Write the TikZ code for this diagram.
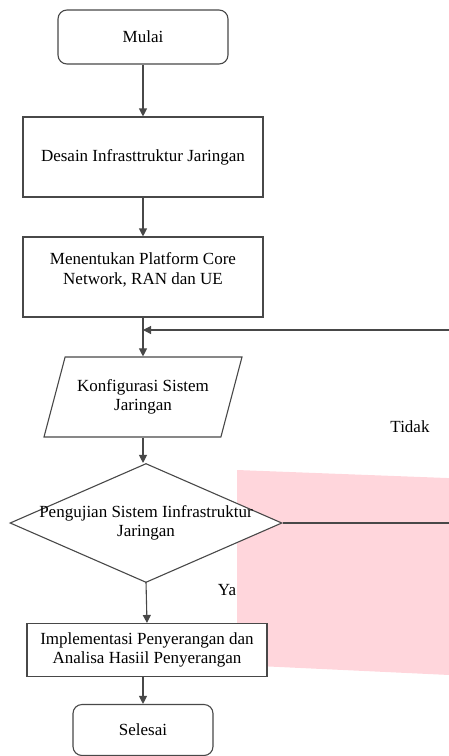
\documentclass[tikz,border=0pt]{standalone}
\usepackage{fontspec}
\setmainfont{Liberation Serif}
\usetikzlibrary{arrows.meta,shapes.geometric}

\definecolor{shadepink}{RGB}{255,214,220}
\definecolor{linegray}{RGB}{72,72,72}

\begin{document}
\begin{tikzpicture}[x=1pt,y=-1pt,>={Triangle[length=8pt,width=8pt]},
    font=\fontsize{17}{19.5}\selectfont]

  \tikzstyle{terminal}=[rectangle,rounded corners=9pt,draw=linegray,
    line width=1.1pt,fill=white,inner sep=0pt]
  \tikzstyle{process}=[rectangle,draw=linegray,line width=1.1pt,
    fill=white,inner sep=0pt,minimum width=240pt,align=center]
  \tikzstyle{io}=[trapezium,trapezium left angle=59,trapezium right angle=121,
    trapezium stretches body=true,draw=linegray,line width=1.1pt,fill=white,
    minimum width=198pt,minimum height=80pt,inner sep=0pt,align=center]
  \tikzstyle{decision}=[diamond,draw=linegray,line width=1.1pt,fill=white,
    minimum width=272pt,minimum height=119pt,inner sep=0pt]
  \tikzstyle{flow}=[->,draw=linegray,line width=1.1pt]

  \useasboundingbox (0,0) rectangle (448,756);

  %% shaded area behind the right side
  \fill [shadepink] (237,470) -- (460,478.5) -- (460,675.5) -- (237,665) -- cycle;

  \node  (mulai)   at (143,37)   [terminal,minimum width=170pt,minimum height=54pt] {Mulai};
  \node  (desain)  at (143,157)  [process,minimum height=80pt] {Desain Infrasttruktur Jaringan};
  \node  (platform) at (143,277) [process,minimum height=80pt,text depth=17pt]
         {Menentukan Platform Core\\Network, RAN dan UE};
  \node  (konfig)  at (143,397)  [io] {Konfigurasi Sistem\\Jaringan};
  \node  (uji)     at (146,523)  [decision,
         label={[align=center]center:Pengujian Sistem Iinfrastruktur\\Jaringan}] {};
  \node  (impl)    at (147,650)  [process,minimum height=53pt]
         {Implementasi Penyerangan dan\\Analisa Hasiil Penyerangan};
  \node  (selesai) at (143,730)  [terminal,minimum width=140pt,minimum height=51pt] {Selesai};

  \node  (tidak)   at (410,427)  {Tidak};
  \node  (ya)      at (227,590)  {Ya};

  \coordinate (join)  at (143,330);
  \coordinate (loopa) at (456,523);
  \coordinate (loopb) at (456,330);

  \path (mulai)    edge [flow] (desain)
        (desain)   edge [flow] (platform)
        (platform) edge [flow] (konfig)
        (konfig.south) edge [flow] (konfig.south |- uji.north)
        (uji.south |- impl.north) ++(0,-41) edge [flow] (impl.north)
        (selesai.north |- impl.south) edge [flow] (selesai.north);

  \draw [flow] (uji.east) -- (loopa) -- (loopb) -- (join);
\end{tikzpicture}
\end{document}
